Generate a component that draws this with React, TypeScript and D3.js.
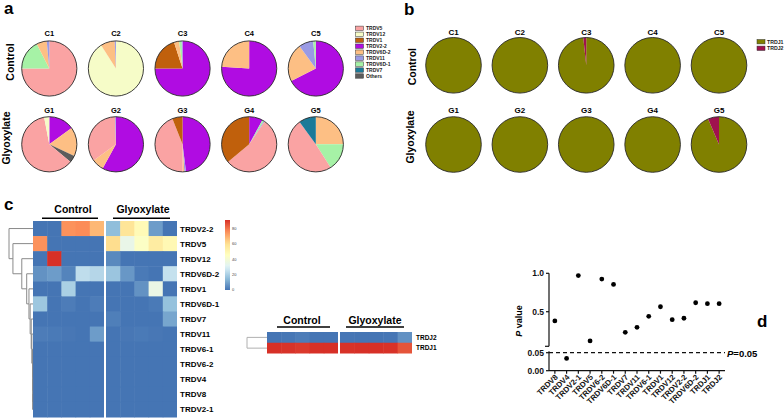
import React from "react";
import * as d3 from "d3";

const FONT = "'Liberation Sans', Arial, Helvetica, sans-serif";

// ---------- Panel a: TRDV usage pies ----------
const vCategories = ["TRDV5", "TRDV12", "TRDV1", "TRDV2-2", "TRDV6D-2", "TRDV11", "TRDV6D-1", "TRDV7", "Others"];
const vColors = ["#FAA3A3", "#F6FCC8", "#C0600C", "#B00CE2", "#FDBF84", "#9A9AE4", "#A6F2A6", "#1B7A98", "#5C5C5C"];
const controlSamples = ["C1", "C2", "C3", "C4", "C5"];
const glyoxSamples = ["G1", "G2", "G3", "G4", "G5"];

// slices listed clockwise from 12 o'clock: [segment, percent]
const vPieC1: [string, number][] = [["TRDV5", 75], ["TRDV6D-1", 17.5], ["TRDV6D-2", 6], ["TRDV11", 1.5]];
const vPieC2: [string, number][] = [["TRDV12", 91], ["TRDV6D-2", 8.3], ["TRDV11", 0.7]];
const vPieC3: [string, number][] = [["TRDV2-2", 75], ["TRDV1", 20], ["TRDV6D-2", 3], ["TRDV6D-1", 1.5], ["TRDV11", 0.5]];
const vPieC4: [string, number][] = [["TRDV2-2", 76], ["TRDV6D-2", 24]];
const vPieC5: [string, number][] = [["TRDV2-2", 67.5], ["TRDV6D-2", 22.5], ["TRDV11", 8.5], ["TRDV6D-1", 1.5]];
const vPieG1: [string, number][] = [["TRDV2-2", 15], ["TRDV6D-2", 17], ["Others", 4], ["TRDV5", 61], ["TRDV12", 3]];
const vPieG2: [string, number][] = [["TRDV2-2", 58], ["TRDV6D-2", 7], ["TRDV5", 34.5], ["TRDV11", 0.5]];
const vPieG3: [string, number][] = [["TRDV2-2", 48], ["TRDV11", 1], ["TRDV6D-2", 1], ["TRDV5", 44], ["TRDV1", 6]];
const vPieG4: [string, number][] = [["TRDV2-2", 8], ["TRDV6D-1", 1], ["TRDV11", 0.5], ["TRDV5", 54.5], ["TRDV1", 36]];
const vPieG5: [string, number][] = [["TRDV6D-2", 25], ["TRDV6D-1", 16], ["TRDV5", 49], ["TRDV7", 10]];
const vPiesControl = [vPieC1, vPieC2, vPieC3, vPieC4, vPieC5];
const vPiesGlyox = [vPieG1, vPieG2, vPieG3, vPieG4, vPieG5];

// ---------- Panel b: TRDJ usage pies ----------
const jCategories = ["TRDJ1", "TRDJ2"];
const jColors = ["#808000", "#A0114E"];
const jControlTRDJ1 = [100, 100, 98.3, 100, 100];
const jControlTRDJ2 = [0, 0, 1.7, 0, 0];
const jGlyoxTRDJ1 = [100, 100, 100, 100, 93.6];
const jGlyoxTRDJ2 = [0, 0, 0, 0, 6.4];

// ---------- Panel c: heatmaps ----------
const heatRows = ["TRDV2-2", "TRDV5", "TRDV12", "TRDV6D-2", "TRDV1", "TRDV6D-1", "TRDV7", "TRDV11", "TRDV6-1", "TRDV6-2", "TRDV4", "TRDV8", "TRDV2-1"];
const hmTRDV2_2 = [0, 0, 75, 76, 68, 15, 58, 48, 8, 0];
const hmTRDV5 = [75, 0, 0, 0, 0, 61, 34.5, 44, 55, 49];
const hmTRDV12 = [0, 91, 0, 0, 0, 4, 0, 0, 0, 0];
const hmTRDV6D_2 = [6, 8, 3, 24, 22, 17, 7, 1, 0, 25];
const hmTRDV1 = [0, 0, 20, 0, 0, 0, 0, 6, 35.5, 0];
const hmTRDV6D_1 = [17.5, 0, 1.5, 0, 1.5, 0, 0, 0, 1, 16];
const hmTRDV7 = [0, 0, 0, 0, 0, 2, 0, 0, 0, 10];
const hmTRDV11 = [1.5, 1, 0.5, 0, 8, 0, 0.5, 1, 0.5, 0];
const hmTRDV6_1 = [0, 0, 0, 0, 0, 0, 0, 0, 0, 0];
const hmTRDV6_2 = [0, 0, 0, 0, 0, 0, 0, 0, 0, 0];
const hmTRDV4 = [0, 0, 0, 0, 0, 0, 0, 0, 0, 0];
const hmTRDV8 = [0, 0, 0, 0, 0, 0, 0, 0, 0, 0];
const hmTRDV2_1 = [0, 0, 0, 0, 0, 0, 0, 0, 0, 0];
const heatMatrix = [hmTRDV2_2, hmTRDV5, hmTRDV12, hmTRDV6D_2, hmTRDV1, hmTRDV6D_1, hmTRDV7, hmTRDV11, hmTRDV6_1, hmTRDV6_2, hmTRDV4, hmTRDV8, hmTRDV2_1];
// row dendrogram (nested pairs) and merge height per nesting depth
const dendroTree: any = ["TRDV2-2", ["TRDV5", ["TRDV12", ["TRDV6D-2", ["TRDV1", ["TRDV6D-1", ["TRDV7", ["TRDV11", ["TRDV6-1", ["TRDV6-2", ["TRDV4", ["TRDV8", "TRDV2-1"]]]]]]]]]]]];
const dendroHeights = [24, 20, 11, 6, 3.7, 2.5, 1.4, 0.8, 0.1, 0.05, 0.02, 0];
const colorbarTicks = [0, 20, 40, 60, 80];

const jRows = ["TRDJ2", "TRDJ1"];
const hmTRDJ2 = [0, 0.5, 1.7, 0, 0, 0.3, 0, 0, 0.3, 6.4];
const hmTRDJ1 = [100, 99.5, 98.3, 100, 100, 99.7, 100, 100, 99.7, 93.6];
const jMatrix = [hmTRDJ2, hmTRDJ1];

const heatPalette = ["#4575B4", "#91BFDB", "#E0F3F8", "#FFFFBF", "#FEE090", "#FC8D59", "#D73027"];

// ---------- Panel d: P values ----------
const pCategories = ["TRDV8", "TRDV4", "TRDV2-1", "TRDV5", "TRDV6-2", "TRDV6D-1", "TRDV7", "TRDV11", "TRDV6-1", "TRDV1", "TRDV12", "TRDV2-2", "TRDV6D-2", "TRDJ1", "TRDJ2"];
const pValues = [0.38, 0.034, 0.97, 0.12, 0.925, 0.855, 0.232, 0.297, 0.44, 0.565, 0.397, 0.415, 0.617, 0.605, 0.605];
const pTicksUpper = [0.5, 1.0];
const pTicksLower = [0, 0.05];

function makeHeatColor(min: number, max: number) {
  const dom = heatPalette.map((_, i) => min + ((max - min) * i) / (heatPalette.length - 1));
  return d3.scaleLinear<string>().domain(dom).range(heatPalette).interpolate(d3.interpolateRgb);
}

function Pie({ cx, cy, r, data, colorOf }: { cx: number; cy: number; r: number; data: [string, number][]; colorOf: (k: string) => string }) {
  const arcs = d3.pie<[string, number]>().sort(null).value((d) => d[1])(data);
  const arc = d3.arc<d3.PieArcDatum<[string, number]>>().innerRadius(0).outerRadius(r);
  return (
    <g transform={`translate(${cx},${cy})`}>
      {arcs.map((a, i) => (
        <path key={i} d={arc(a) || ""} fill={colorOf(a.data[0])} />
      ))}
      <circle r={r} fill="none" stroke="#2a2a2a" strokeWidth={0.9} />
    </g>
  );
}

export default function App() {
  // panel a scales
  const vColor = d3.scaleOrdinal<string, string>().domain(vCategories).range(vColors);
  const aX = d3.scalePoint<string>().domain(["0", "1", "2", "3", "4"]).range([49.3, 315.8]);
  const legendAY = d3.scalePoint<string>().domain(vCategories).range([28.3, 76]);

  // panel b scales
  const jColor = d3.scaleOrdinal<string, string>().domain(jCategories).range(jColors);
  const bX = d3.scalePoint<string>().domain(["0", "1", "2", "3", "4"]).range([453.5, 719]);
  const legendBY = d3.scalePoint<string>().domain(jCategories).range([41.7, 48.3]);

  // panel c scales
  const heatMax = d3.max(heatMatrix.flat()) as number;
  const heatColor = makeHeatColor(0, heatMax);
  const hX1 = d3.scaleBand<number>().domain(d3.range(5)).range([33, 104]);
  const hX2 = d3.scaleBand<number>().domain(d3.range(5)).range([106, 177]);
  const hY = d3.scaleBand<string>().domain(heatRows).range([221, 417]);
  const cbY = d3.scaleLinear().domain([0, heatMax]).range([290, 220]);

  const jMax = d3.max(jMatrix.flat()) as number;
  const jHeatColor = makeHeatColor(0, jMax);
  const jX1 = d3.scaleBand<number>().domain(d3.range(5)).range([267, 338]);
  const jX2 = d3.scaleBand<number>().domain(d3.range(5)).range([340, 412]);
  const jY = d3.scaleBand<string>().domain(jRows).range([332, 353.5]);

  // dendrogram
  const root = d3.hierarchy<any>(dendroTree, (d) => (Array.isArray(d) ? d : null));
  const dX = d3.scaleLinear().domain([0, 24]).range([32.6, 9]);
  const pos = new Map<any, { x: number; y: number }>();
  root.eachAfter((n) => {
    if (!n.children) {
      pos.set(n, { x: 33, y: (hY(n.data) as number) + hY.bandwidth() / 2 });
    } else {
      const ys = n.children.map((c) => pos.get(c)!.y);
      pos.set(n, { x: dX(dendroHeights[n.depth]), y: d3.mean(ys) as number });
    }
  });
  const dendroSegs: { x1: number; y1: number; x2: number; y2: number }[] = [];
  root.each((n) => {
    if (!n.children) return;
    const p = pos.get(n)!;
    const ys = n.children.map((c) => pos.get(c)!.y);
    dendroSegs.push({ x1: p.x, y1: d3.min(ys)!, x2: p.x, y2: d3.max(ys)! });
    n.children.forEach((c) => {
      const q = pos.get(c)!;
      dendroSegs.push({ x1: p.x, y1: q.y, x2: q.x, y2: q.y });
    });
  });

  // panel d scales
  const pX = d3.scalePoint<string>().domain(pCategories).range([549, 725]).padding(0.5);
  const pYUp = d3.scaleLinear().domain([0.05, 1]).range([346.3, 273.3]);
  const pYLo = d3.scaleLinear().domain([0, 0.05]).range([370.7, 352.7]);
  const pY = (v: number) => (v <= 0.05 ? pYLo(v) : pYUp(v));
  const axisX = pX.range()[0];
  const axisY = pYLo(0);
  const fmt1 = d3.format(".1f");
  const fmt2 = d3.format(".2f");

  const bold = { fontFamily: FONT, fontWeight: "bold" as const };
  const ax = { stroke: "#111", strokeWidth: 1.2 };

  return (
    <div style={{ position: "absolute", left: 0, top: 0 }}>
      <svg width={784} height={419} style={{ display: "block", background: "#fff" }}>
        {/* ===== Panel a ===== */}
        <text x={4} y={14} fontSize={17} {...bold}>a</text>
        <text transform="translate(13.5,62) rotate(-90)" textAnchor="middle" fontSize={10.5} {...bold}>Control</text>
        <text transform="translate(10,138) rotate(-90)" textAnchor="middle" fontSize={10.5} {...bold}>Glyoxylate</text>
        {vPiesControl.map((d, i) => (
          <g key={"ac" + i}>
            <text x={aX(String(i))} y={36} textAnchor="middle" fontSize={7.5} {...bold}>{controlSamples[i]}</text>
            <Pie cx={aX(String(i)) as number} cy={68.5} r={27.6} data={d} colorOf={vColor} />
          </g>
        ))}
        {vPiesGlyox.map((d, i) => (
          <g key={"ag" + i}>
            <text x={aX(String(i))} y={113} textAnchor="middle" fontSize={7.5} {...bold}>{glyoxSamples[i]}</text>
            <Pie cx={aX(String(i)) as number} cy={144.3} r={27.6} data={d} colorOf={vColor} />
          </g>
        ))}
        {vCategories.map((c) => (
          <g key={"la" + c}>
            <rect x={355.5} y={(legendAY(c) as number) - 2.2} width={8} height={4.4} fill={vColor(c)} stroke="#333" strokeWidth={0.5} />
            <text x={366} y={(legendAY(c) as number) + 1.8} fontSize={5} {...bold} fill="#222">{c}</text>
          </g>
        ))}

        {/* ===== Panel b ===== */}
        <text x={404} y={15} fontSize={17} {...bold}>b</text>
        <text transform="translate(416,66.7) rotate(-90)" textAnchor="middle" fontSize={10.5} {...bold}>Control</text>
        <text transform="translate(414,137) rotate(-90)" textAnchor="middle" fontSize={10.5} {...bold}>Glyoxylate</text>
        {controlSamples.map((s, i) => (
          <g key={"bc" + i}>
            <text x={bX(String(i))} y={35} textAnchor="middle" fontSize={8} {...bold}>{s}</text>
            <Pie cx={bX(String(i)) as number} cy={65.3} r={27.8} data={[["TRDJ1", jControlTRDJ1[i]], ["TRDJ2", jControlTRDJ2[i]]]} colorOf={jColor} />
          </g>
        ))}
        {glyoxSamples.map((s, i) => (
          <g key={"bg" + i}>
            <text x={bX(String(i))} y={113} textAnchor="middle" fontSize={8} {...bold}>{s}</text>
            <Pie cx={bX(String(i)) as number} cy={144.5} r={27.8} data={[["TRDJ1", jGlyoxTRDJ1[i]], ["TRDJ2", jGlyoxTRDJ2[i]]]} colorOf={jColor} />
          </g>
        ))}
        {jCategories.map((c) => (
          <g key={"lb" + c}>
            <rect x={757} y={(legendBY(c) as number) - 2.2} width={8} height={4.4} fill={jColor(c)} stroke="#333" strokeWidth={0.5} />
            <text x={767} y={(legendBY(c) as number) + 1.9} fontSize={5.2} {...bold} fill="#222">{c}</text>
          </g>
        ))}

        {/* ===== Panel c ===== */}
        <text x={4} y={210} fontSize={17} {...bold}>c</text>
        <text x={73} y={213} textAnchor="middle" fontSize={10.5} {...bold}>Control</text>
        <line x1={42} x2={98} y1={218.3} y2={218.3} stroke="#000" strokeWidth={1.5} />
        <text x={143} y={213} textAnchor="middle" fontSize={10.5} {...bold}>Glyoxylate</text>
        <line x1={113} x2={170} y1={218.3} y2={218.3} stroke="#000" strokeWidth={1.5} />
        {heatMatrix.map((row, ri) =>
          row.map((v, ci) => {
            const sc = ci < 5 ? hX1 : hX2;
            const x = sc(ci % 5) as number;
            return (
              <rect key={`h${ri}-${ci}`} x={x} y={hY(heatRows[ri])} width={sc.bandwidth() + (ci % 5 < 4 ? 0.5 : 0)} height={hY.bandwidth() + 0.5} fill={heatColor(v)} />
            );
          })
        )}
        {heatRows.map((r) => (
          <text key={"hl" + r} x={180} y={(hY(r) as number) + hY.bandwidth() / 2 + 3} fontSize={8} {...bold}>{r}</text>
        ))}
        {dendroSegs.map((s, i) => (
          <line key={"dg" + i} x1={s.x1} y1={s.y1} x2={s.x2} y2={s.y2} stroke="#8a8a8a" strokeWidth={1} />
        ))}
        <defs>
          <linearGradient id="cbGrad" x1="0" y1="1" x2="0" y2="0">
            {d3.range(0, 1.0001, 0.05).map((t) => (
              <stop key={t} offset={t} stopColor={heatColor(t * heatMax)} />
            ))}
          </linearGradient>
        </defs>
        <rect x={225} y={cbY(heatMax)} width={5} height={cbY(0) - cbY(heatMax)} fill="url(#cbGrad)" />
        {colorbarTicks.map((t) => (
          <text key={"cb" + t} x={232} y={cbY(t) + 1.4} fontSize={4} fontFamily={FONT} fill="#444">{t}</text>
        ))}

        {/* TRDJ heatmap */}
        <text x={302} y={324} textAnchor="middle" fontSize={10.5} {...bold}>Control</text>
        <line x1={277} x2={330} y1={327} y2={327} stroke="#000" strokeWidth={1.5} />
        <text x={375} y={324} textAnchor="middle" fontSize={10.5} {...bold}>Glyoxylate</text>
        <line x1={346} x2={404} y1={327} y2={327} stroke="#000" strokeWidth={1.5} />
        {jMatrix.map((row, ri) =>
          row.map((v, ci) => {
            const sc = ci < 5 ? jX1 : jX2;
            return (
              <rect key={`j${ri}-${ci}`} x={sc(ci % 5)} y={jY(jRows[ri])} width={sc.bandwidth() + (ci % 5 < 4 ? 0.5 : 0)} height={jY.bandwidth() + (ri === 0 ? 0.5 : 0)} fill={jHeatColor(v)} />
            );
          })
        )}
        {jRows.map((r) => (
          <text key={"jl" + r} x={416} y={(jY(r) as number) + jY.bandwidth() / 2 + 2.3} fontSize={6.5} {...bold}>{r}</text>
        ))}
        <path
          d={`M267,${(jY("TRDJ2") as number) + jY.bandwidth() / 2}H247V${(jY("TRDJ1") as number) + jY.bandwidth() / 2}H267`}
          fill="none"
          stroke="#b0b0b0"
          strokeWidth={1}
        />

        {/* ===== Panel d ===== */}
        <text x={757} y={327} fontSize={17} {...bold}>d</text>
        {/* y axis: upper segment */}
        <line x1={axisX} x2={axisX} y1={pYUp(0.05)} y2={pYUp(1)} {...ax} />
        <line x1={axisX - 4} x2={axisX} y1={pYUp(0.05)} y2={pYUp(0.05)} {...ax} />
        {pTicksUpper.map((t) => (
          <g key={"yu" + t}>
            <line x1={axisX - 3} x2={axisX} y1={pYUp(t)} y2={pYUp(t)} {...ax} />
            <text x={axisX - 5} y={pYUp(t) + 3} textAnchor="end" fontSize={8.5} {...bold} fill="#111">{fmt1(t)}</text>
          </g>
        ))}
        {/* y axis: lower segment */}
        <line x1={axisX} x2={axisX} y1={pYLo(0)} y2={pYLo(0.054)} {...ax} />
        {pTicksLower.map((t) => (
          <g key={"yl" + t}>
            <line x1={axisX - 3} x2={axisX} y1={pYLo(t)} y2={pYLo(t)} {...ax} />
            <text x={axisX - 5} y={pYLo(t) + 3} textAnchor="end" fontSize={8.5} {...bold} fill="#111">{fmt2(t)}</text>
          </g>
        ))}
        {/* x axis */}
        <line x1={axisX} x2={pX.range()[1]} y1={axisY} y2={axisY} {...ax} />
        {pCategories.map((c) => (
          <g key={"xt" + c}>
            <line x1={pX(c)} x2={pX(c)} y1={axisY} y2={axisY + 3} {...ax} />
            <text transform={`translate(${(pX(c) as number) + 1.5},${axisY + 5}) rotate(-45)`} textAnchor="end" dy="0.35em" fontSize={7.8} {...bold} fill="#111">{c}</text>
          </g>
        ))}
        <line x1={axisX} x2={pX.range()[1]} y1={pYLo(0.05)} y2={pYLo(0.05)} stroke="#111" strokeWidth={1.3} strokeDasharray="4,3" />
        <text x={727} y={356.5} fontSize={9.5} {...bold}>
          <tspan fontStyle="italic">P</tspan>=0.05
        </text>
        <text transform="translate(521.5,321) rotate(-90)" textAnchor="middle" fontSize={9} {...bold}>
          <tspan fontStyle="italic">P</tspan> value
        </text>
        {pCategories.map((c, i) => (
          <circle key={"pd" + c} cx={pX(c)} cy={pY(pValues[i])} r={2.4} fill="#000" />
        ))}
      </svg>
    </div>
  );
}
